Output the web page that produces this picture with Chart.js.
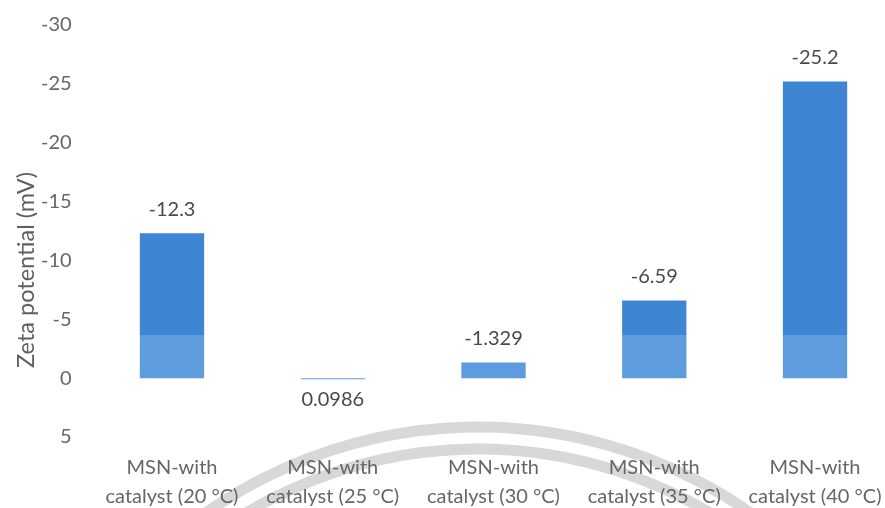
<!DOCTYPE html>
<html>
<head>
<meta charset="utf-8">
<script src="https://cdn.jsdelivr.net/npm/chart.js@4/dist/chart.umd.min.js"></script>
<style>
  html, body { margin: 0; padding: 0; background: #fff; overflow: hidden; }
  #wrap { width: 905px; height: 508px; position: relative; }
</style>
</head>
<body>
<div id="wrap"><canvas id="chart_zeta"></canvas></div>
<script>
// samples (two-line category labels)
const categories = [
    ['MSN-with', 'catalyst (20 °C)'],
    ['MSN-with', 'catalyst (25 °C)'],
    ['MSN-with', 'catalyst (30 °C)'],
    ['MSN-with', 'catalyst (35 °C)'],
    ['MSN-with', 'catalyst (40 °C)']
];

// zeta potential, mV
const zetaValues = [-12.3, 0.0986, -1.329, -6.59, -25.2];

// y axis: reversed, -30 on top
const yMin = -30;
const yMax = 5;
const yStep = 5;

const axisTitle = 'Zeta potential (mV)';

const FONT = 'Lato, "Open Sans", sans-serif';

// two tones of blue, darker upper part of the bars
function barFill(ctx) {
    const chart = ctx.chart;
    const g = chart.ctx.createLinearGradient(0, 0, 0, chart.height);
    const cut = 335 / chart.height;
    g.addColorStop(0, '#3e86d3');
    g.addColorStop(cut, '#3e86d3');
    g.addColorStop(cut, '#5e9cdd');
    g.addColorStop(1, '#5e9cdd');
    return g;
}

// faint grey arcs behind the category labels
const arcsPlugin = {
    id: 'arcs',
    beforeDraw(chart) {
        const c = chart.ctx;
        c.save();
        c.strokeStyle = 'rgba(190,190,190,0.6)';
        c.lineWidth = 11;
        c.beginPath();
        c.arc(478, 901, 474, Math.PI * 1.1, Math.PI * 1.9);
        c.stroke();
        c.beginPath();
        c.arc(478, 901, 452, Math.PI * 1.1, Math.PI * 1.9);
        c.stroke();
        c.restore();
    }
};

// value labels at the end of each bar
const valueLabels = {
    id: 'valueLabels',
    afterDatasetsDraw(chart) {
        const c = chart.ctx;
        const meta = chart.getDatasetMeta(0);
        c.save();
        c.font = '20px ' + FONT;
        c.fillStyle = '#4a4a4a';
        c.textAlign = 'center';
        c.textBaseline = 'middle';
        meta.data.forEach((bar, i) => {
            const v = zetaValues[i];
            const y = v < 0 ? bar.y - 24 : bar.y + 20;
            c.fillText(String(v), bar.x, y);
        });
        c.restore();
    }
};

// rotated axis title
const yTitle = {
    id: 'yTitle',
    afterDraw(chart) {
        const c = chart.ctx;
        c.save();
        c.translate(26, 270);
        c.rotate(-Math.PI / 2);
        c.font = '23.5px ' + FONT;
        c.fillStyle = '#5f5f5f';
        c.textAlign = 'center';
        c.textBaseline = 'middle';
        c.fillText(axisTitle, 0, 0);
        c.restore();
    }
};

const chart = new Chart(document.getElementById('chart_zeta'), {
    type: 'bar',
    data: {
        labels: categories,
        datasets: [{
            data: zetaValues,
            backgroundColor: barFill,
            borderWidth: 0,
            barPercentage: 0.4,
            categoryPercentage: 1
        }]
    },
    options: {
        animation: false,
        responsive: true,
        maintainAspectRatio: false,
        layout: { padding: { top: 25, right: 9.6, bottom: 0, left: 0 } },
        plugins: {
            legend: { display: false },
            tooltip: { enabled: false }
        },
        scales: {
            x: {
                grid: { display: false, drawTicks: false },
                border: { display: false },
                ticks: {
                    color: '#666',
                    font: { family: FONT, size: 20, lineHeight: 1.45 },
                    padding: 16,
                    maxRotation: 0,
                    autoSkip: false
                },
                afterFit(s) { s.height = 71; }
            },
            y: {
                reverse: true,
                min: yMin,
                max: yMax,
                grid: { display: false, drawTicks: false },
                border: { display: false },
                ticks: {
                    stepSize: yStep,
                    color: '#666',
                    font: { family: FONT, size: 20 },
                    padding: 20
                },
                afterFit(s) {
                    s.width = 91.6;
                    // tick padding shouldn't push the plot area down
                    s.paddingTop = 0;
                    s.paddingBottom = 0;
                }
            }
        }
    },
    plugins: [arcsPlugin, valueLabels, yTitle]
});
</script>
</body>
</html>
